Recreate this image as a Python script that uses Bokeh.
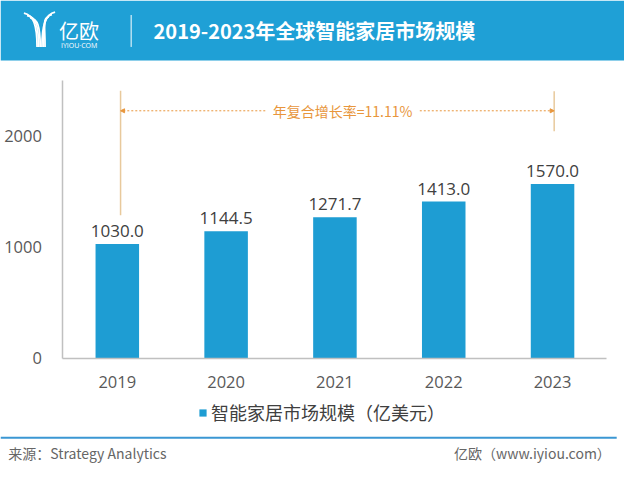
from bokeh.plotting import figure
from bokeh.models import (ColumnDataSource, Range1d, FixedTicker, LabelSet, Label, Arrow,
                          NormalHead, Legend, LegendItem, LinearAxis)
from bokeh.core.properties import value
from bokeh.embed import file_html
from bokeh.resources import INLINE

# ---- data ----
years = ["2019", "2020", "2021", "2022", "2023"]
market = [1030.0, 1144.5, 1271.7, 1413.0, 1570.0]
market_labels = ["1030.0", "1144.5", "1271.7", "1413.0", "1570.0"]
y_ticks = [0, 1000, 2000]
y_max = 2500
title_text = "2019-2023年全球智能家居市场规模"
series_name = "智能家居市场规模（亿美元）"
cagr_text = "年复合增长率=11.11%"
source_text = "来源：Strategy Analytics"
credit_text = "亿欧（www.iyiou.com）"

BLUE = "#1e9dd3"
HEADER = "#1fa0d6"
ORANGE = "#e8963c"
TAN = "#e8c99c"
GRAY = "#595959"
CJK_S = "Noto Sans CJK SC"
NUM_S = "Open Sans"
CJK = value(CJK_S)
NUM = value(NUM_S)

# ---- geometry: canvas mapped onto a 640x493 design grid ----
W, H = 624, 477
GW, GH = 640, 493
AX_L, AX_R, AX_T, AX_B = 64, 622, 83, 370        # chart area on the design grid
n = len(years)
kx = (AX_R - AX_L) / n
ky = (AX_B - AX_T) / y_max
x_range = Range1d(-AX_L / kx, n + (GW - AX_R) / kx)
y_range = Range1d(-(GH - AX_B) / ky, y_max + AX_T / ky)

p = figure(width=W, height=H, x_range=x_range, y_range=y_range,
           x_axis_type=None, y_axis_type=None, toolbar_location=None,
           output_backend="svg", min_border=0)
p.extra_x_ranges = {"px": Range1d(0, GW)}
p.extra_y_ranges = {"px": Range1d(GH, 0)}
p.background_fill_color = "white"
p.border_fill_color = "white"
p.outline_line_color = None
p.grid.visible = False
PX = dict(x_range_name="px", y_range_name="px")

# ---- header ----
p.quad(left=[0], right=[GW], top=[0], bottom=[62], fill_color=HEADER, line_color=None, **PX)
for i in range(3):
    p.bezier(x0=24 + i * 3.2, y0=13 + i * 2.5, x1=37.5 + i * 1.6, y1=48,
             cx0=34 + i * 2, cy0=15 + i * 2, cx1=37.5 + i * 1.6, cy1=26,
             line_color="white", line_width=1.8, **PX)
    p.bezier(x0=56 - i * 3.2, y0=12 + i * 2.5, x1=42.5 + i * 1.6, y1=48,
             cx0=46 - i * 1.5, cy0=14 + i * 2, cx1=42.5 + i * 1.6, cy1=26,
             line_color="white", line_width=1.8, **PX)
p.text(x=[60], y=[31], text=["亿欧"], text_color="white", text_font=CJK,
       text_font_size="20px", text_align="left", text_baseline="middle", **PX)
p.text(x=[62], y=[46], text=["IYIOU·COM"], text_color="white", text_font=NUM,
       text_font_size="7px", text_align="left", text_baseline="middle", **PX)
p.segment(x0=[134], y0=[15], x1=[134], y1=[48], line_color="white", line_width=1, **PX)
p.text(x=[157], y=[31], text=[title_text], text_color="white", text_font=CJK,
       text_font_style="bold", text_font_size="20px", text_align="left",
       text_baseline="middle", **PX)

# ---- bars ----
xpos = [i + 0.5 for i in range(n)]
src = ColumnDataSource(dict(x=xpos, year=years, value=market, label=market_labels))
bars = p.vbar(x="x", top="value", width=0.4, source=src, fill_color=BLUE, line_color=None)
p.add_layout(LabelSet(x="x", y="value", text="label", source=src, y_offset=7,
                      text_align="center", text_baseline="bottom", text_font=NUM,
                      text_font_size="17px", text_color="#404040"))

# ---- axes (drawn at fixed positions inside the canvas) ----
xaxis = LinearAxis(fixed_location=0, bounds=(0, n),
                   ticker=FixedTicker(ticks=xpos),
                   major_label_overrides={x: y for x, y in zip(xpos, years)})
yaxis = LinearAxis(fixed_location=0, bounds=(0, y_max), ticker=FixedTicker(ticks=y_ticks))
for ax in (xaxis, yaxis):
    ax.axis_line_color = "#c0c0c0"
    ax.axis_line_width = 1.5
    ax.major_tick_line_color = None
    ax.minor_tick_line_color = None
    ax.major_label_text_font = NUM_S
    ax.major_label_text_font_size = "16.5px"
    ax.major_label_text_color = GRAY
yaxis.major_label_standoff = 15
xaxis.major_label_standoff = 12
p.add_layout(xaxis, "below")
p.add_layout(yaxis, "left")

# ---- CAGR annotation ----
p.segment(x0=[0.53, 4.515], y0=[1290, 2045], x1=[0.53, 4.515], y1=[2410, 2405],
          line_color=TAN, line_width=1.5)
p.add_layout(Arrow(end=NormalHead(size=4, fill_color=ORANGE, line_color=ORANGE),
                   x_start=1.86, y_start=2230, x_end=0.53, y_end=2230,
                   line_color=ORANGE, line_width=1, line_dash="2 2"))
p.add_layout(Arrow(end=NormalHead(size=4, fill_color=ORANGE, line_color=ORANGE),
                   x_start=3.28, y_start=2230, x_end=4.515, y_end=2230,
                   line_color=ORANGE, line_width=1, line_dash="2 2"))
p.add_layout(Label(x=2.57, y=2230, text=cagr_text, text_align="center",
                   text_baseline="middle", text_font=CJK_S, text_font_size="14px",
                   text_color=ORANGE))

# ---- legend ----
legend = Legend(items=[LegendItem(label=series_name, renderers=[bars])],
                location=(198, 52), orientation="horizontal",
                border_line_color=None, background_fill_alpha=0,
                label_text_font=CJK_S, label_text_font_size="18px",
                label_text_color="#404040", glyph_width=9, glyph_height=9,
                label_standoff=4, padding=0, margin=0)
p.add_layout(legend)

# ---- footer ----
p.segment(x0=[0], y0=[452], x1=[632], y1=[452], line_color="#3b97d3", line_width=2, **PX)
p.text(x=[8], y=[468], text=[source_text], text_font=CJK, text_font_size="14px",
       text_color="#666666", text_align="left", text_baseline="middle", **PX)
p.text(x=[626], y=[468], text=[credit_text], text_font=CJK, text_font_size="14px",
       text_color="#666666", text_align="right", text_baseline="middle", **PX)

open("out.html", "w").write(file_html(p, INLINE))
